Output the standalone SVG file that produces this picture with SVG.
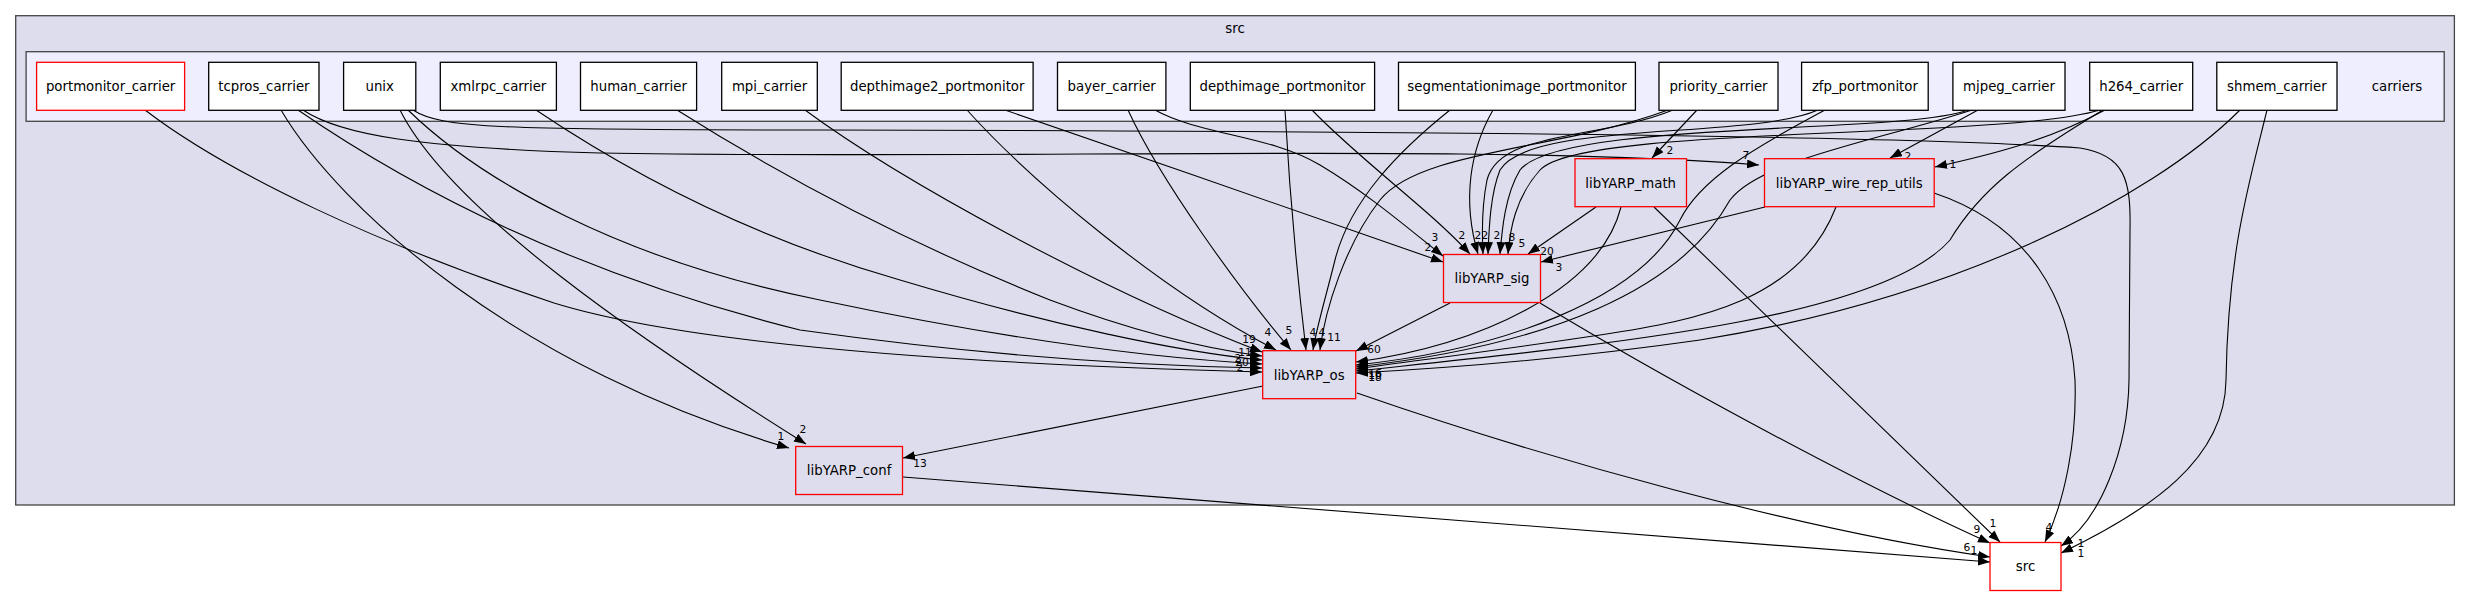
<svg xmlns="http://www.w3.org/2000/svg" width="2471" height="596" viewBox="0 0 2471 596">
<style>
.t{font-family:"DejaVu Sans","Liberation Sans",sans-serif;font-size:13.3px;fill:#000;text-anchor:middle}
.l{font-family:"DejaVu Sans","Liberation Sans",sans-serif;font-size:10.7px;fill:#000;text-anchor:middle}
.n{fill:#fff;stroke:#000;stroke-width:1.3}
.r{fill:#ddddee;stroke:#ff0000;stroke-width:1.3}
.rw{fill:#fff;stroke:#ff0000;stroke-width:1.3}
.e{fill:none;stroke:#000;stroke-width:1.1;marker-end:url(#a)}
</style>
<defs>
<marker id="a" markerUnits="userSpaceOnUse" markerWidth="13" markerHeight="10" refX="12" refY="4.5" orient="auto">
<path d="M0,0 L12,4.5 L0,9 z" fill="#000"/>
</marker>
</defs>
<rect width="2471" height="596" fill="#fff"/>
<g id="cluster_src">
<rect x="15.7" y="15.7" width="2438.7" height="489.3" fill="#ddddee" stroke="#444" stroke-width="1.3"/>
<text class="t" x="1235" y="33">src</text>
</g>
<g id="cluster_carriers">
<rect x="26.1" y="51.7" width="2418.1" height="69.6" fill="#eeeeff" stroke="#444" stroke-width="1.3"/>
<text class="t" x="2397" y="91">carriers</text>
</g>
<g id="edges">
<path class="e" d="M145,110 C230,175 380,245 554,303 C700,348 1000,365 1262,372"/>
<path class="e" d="M281,110 C340,210 520,370 789,448"/>
<path class="e" d="M298,110 C400,180 560,270 800,330 C1000,358 1150,366 1262,368"/>
<path class="e" d="M303,110 C340,135 420,148 600,153 C1000,160 1500,143 1759,165"/>
<path class="e" d="M400,110 C450,210 640,340 806,444"/>
<path class="e" d="M408,110 C480,180 620,260 820,300 C1000,338 1150,358 1262,364"/>
<path class="e" d="M413,110 C440,128 500,130 820,130 C1400,131 1900,135 2080,148 C2125,155 2131,180 2130,230 L2129,380 C2128,450 2100,520 2061,546"/>
<path class="e" d="M536,110 C640,180 760,240 900,280 C1050,325 1180,352 1262,360"/>
<path class="e" d="M677,110 C780,175 900,240 1050,300 C1130,330 1200,348 1262,356"/>
<path class="e" d="M805,110 C900,180 1100,290 1262,352"/>
<path class="e" d="M967,110 C1030,180 1160,290 1276,350"/>
<path class="e" d="M1005,110 C1150,160 1300,212 1443,262"/>
<path class="e" d="M1128,110 C1160,180 1240,290 1291,350"/>
<path class="e" d="M1155,110 C1200,135 1270,135 1320,165 C1370,195 1410,230 1443,256"/>
<path class="e" d="M1285,110 C1290,200 1300,300 1306,350"/>
<path class="e" d="M1312,110 C1360,160 1430,210 1470,254"/>
<path class="e" d="M1450,110 C1400,150 1350,200 1335,260 C1325,300 1316,330 1313,350"/>
<path class="e" d="M1493,110 C1470,150 1462,200 1478,254"/>
<path class="e" d="M1697,110 L1652,158"/>
<path class="e" d="M1673,110 C1600,140 1500,130 1487,180 C1481,210 1482,235 1483,254"/>
<path class="e" d="M1668,110 C1560,150 1420,150 1380,200 C1345,245 1325,310 1320,350"/>
<path class="e" d="M1818,110 C1750,140 1530,120 1500,170 C1490,195 1489,230 1488,254"/>
<path class="e" d="M1825,110 C1750,150 1700,180 1680,220 C1640,300 1500,350 1356,365"/>
<path class="e" d="M1968,110 C1900,135 1560,120 1520,170 C1505,195 1502,230 1500,254"/>
<path class="e" d="M1978,110 L1890,158"/>
<path class="e" d="M1972,110 C1880,140 1760,160 1730,200 C1680,290 1550,345 1356,367"/>
<path class="e" d="M2100,110 C2000,140 1580,125 1540,170 C1515,198 1510,230 1508,254"/>
<path class="e" d="M2105,110 C2050,140 1990,155 1935,167"/>
<path class="e" d="M2103,110 C2020,160 1980,190 1950,240 C1880,320 1600,345 1356,371"/>
<path class="e" d="M2240,110 C2150,200 1950,300 1700,340 C1560,360 1450,368 1356,373"/>
<path class="e" d="M2267,110 C2250,180 2228,250 2226,380 C2225,460 2150,510 2061,553"/>
<path class="e" d="M1596,207 L1528,254"/>
<path class="e" d="M1621,207 C1600,290 1480,345 1356,362"/>
<path class="e" d="M1654,207 L2000,542"/>
<path class="e" d="M1765,207 L1541,262"/>
<path class="e" d="M1836,207 C1800,300 1700,320 1600,335 C1500,350 1420,360 1356,369"/>
<path class="e" d="M1934,193 C2030,225 2070,300 2075,380 C2077,440 2065,500 2045,542"/>
<path class="e" d="M1450,303 L1356,351"/>
<path class="e" d="M1540,303 C1650,370 1850,480 1990,543"/>
<path class="e" d="M1263,386 L903,458"/>
<path class="e" d="M1357,393 C1550,460 1800,530 1990,557"/>
<path class="e" d="M903,477 L1990,562"/>
</g>
<g id="edge_labels">
<text class="l" x="1746" y="159">7</text>
<text class="l" x="1670" y="154">2</text>
<text class="l" x="1908" y="160">2</text>
<text class="l" x="1953" y="168">1</text>
<text class="l" x="1435" y="241">3</text>
<text class="l" x="1428" y="251">2</text>
<text class="l" x="1462" y="239">2</text>
<text class="l" x="1478" y="239">2</text>
<text class="l" x="1485" y="239">2</text>
<text class="l" x="1497" y="239">2</text>
<text class="l" x="1512" y="241">8</text>
<text class="l" x="1522" y="247">5</text>
<text class="l" x="1547" y="255">20</text>
<text class="l" x="1559" y="271">3</text>
<text class="l" x="1249" y="343">19</text>
<text class="l" x="1268" y="336">4</text>
<text class="l" x="1289" y="334">5</text>
<text class="l" x="1313" y="336">4</text>
<text class="l" x="1322" y="336">4</text>
<text class="l" x="1334" y="341">11</text>
<text class="l" x="1374" y="353">60</text>
<text class="l" x="1245" y="356">11</text>
<text class="l" x="1238" y="362">2</text>
<text class="l" x="1242" y="366">20</text>
<text class="l" x="1240" y="371">2</text>
<text class="l" x="1375" y="377">16</text>
<text class="l" x="1375" y="379">10</text>
<text class="l" x="1375" y="381">18</text>
<text class="l" x="781" y="440">1</text>
<text class="l" x="803" y="433">2</text>
<text class="l" x="920" y="467">13</text>
<text class="l" x="1993" y="527">1</text>
<text class="l" x="1977" y="533">9</text>
<text class="l" x="2049" y="531">4</text>
<text class="l" x="1967" y="551">6</text>
<text class="l" x="1974" y="554">1</text>
<text class="l" x="2081" y="547">1</text>
<text class="l" x="2081" y="557">1</text>
</g>
<g id="portmonitor_carrier"><rect class="rw" x="36.6" y="62.3" width="148" height="48"/><text class="t" x="110.6" y="91">portmonitor_carrier</text></g>
<g id="tcpros_carrier"><rect class="n" x="208.7" y="62.3" width="110.3" height="48"/><text class="t" x="263.9" y="91">tcpros_carrier</text></g>
<g id="unix"><rect class="n" x="343.6" y="62.3" width="72.2" height="48"/><text class="t" x="379.7" y="91">unix</text></g>
<g id="xmlrpc_carrier"><rect class="n" x="440.3" y="62.3" width="116.1" height="48"/><text class="t" x="498.4" y="91">xmlrpc_carrier</text></g>
<g id="human_carrier"><rect class="n" x="580.5" y="62.3" width="116.1" height="48"/><text class="t" x="638.6" y="91">human_carrier</text></g>
<g id="mpi_carrier"><rect class="n" x="721.7" y="62.3" width="95.6" height="48"/><text class="t" x="769.5" y="91">mpi_carrier</text></g>
<g id="depthimage2_portmonitor"><rect class="n" x="841.2" y="62.3" width="191.9" height="48"/><text class="t" x="937.2" y="91">depthimage2_portmonitor</text></g>
<g id="bayer_carrier"><rect class="n" x="1057.5" y="62.3" width="108.4" height="48"/><text class="t" x="1111.7" y="91">bayer_carrier</text></g>
<g id="depthimage_portmonitor"><rect class="n" x="1190.3" y="62.3" width="184.3" height="48"/><text class="t" x="1282.5" y="91">depthimage_portmonitor</text></g>
<g id="segmentationimage_portmonitor"><rect class="n" x="1398.5" y="62.3" width="236.9" height="48"/><text class="t" x="1517" y="91">segmentationimage_portmonitor</text></g>
<g id="priority_carrier"><rect class="n" x="1659" y="62.3" width="119" height="48"/><text class="t" x="1718.5" y="91">priority_carrier</text></g>
<g id="zfp_portmonitor"><rect class="n" x="1801.6" y="62.3" width="126.6" height="48"/><text class="t" x="1864.9" y="91">zfp_portmonitor</text></g>
<g id="mjpeg_carrier"><rect class="n" x="1952.9" y="62.3" width="112.1" height="48"/><text class="t" x="2009" y="91">mjpeg_carrier</text></g>
<g id="h264_carrier"><rect class="n" x="2089.7" y="62.3" width="103" height="48"/><text class="t" x="2141.2" y="91">h264_carrier</text></g>
<g id="shmem_carrier"><rect class="n" x="2216.8" y="62.3" width="120.2" height="48"/><text class="t" x="2276.9" y="91">shmem_carrier</text></g>
<g id="libYARP_math"><rect class="r" x="1575" y="158.7" width="111.5" height="48"/><text class="t" x="1630.7" y="187.5">libYARP_math</text></g>
<g id="libYARP_wire_rep_utils"><rect class="r" x="1764.5" y="158.7" width="169.7" height="48"/><text class="t" x="1849.3" y="187.5">libYARP_wire_rep_utils</text></g>
<g id="libYARP_sig"><rect class="r" x="1443.5" y="254.5" width="97" height="48"/><text class="t" x="1492" y="283.3">libYARP_sig</text></g>
<g id="libYARP_os"><rect class="r" x="1262.7" y="350.7" width="93" height="48"/><text class="t" x="1309.2" y="379.5">libYARP_os</text></g>
<g id="libYARP_conf"><rect class="r" x="795.7" y="446.5" width="106.8" height="48"/><text class="t" x="849.1" y="475.3">libYARP_conf</text></g>
<g id="src"><rect class="rw" x="1990" y="542.5" width="71" height="48"/><text class="t" x="2025.5" y="571.3">src</text></g>
</svg>
